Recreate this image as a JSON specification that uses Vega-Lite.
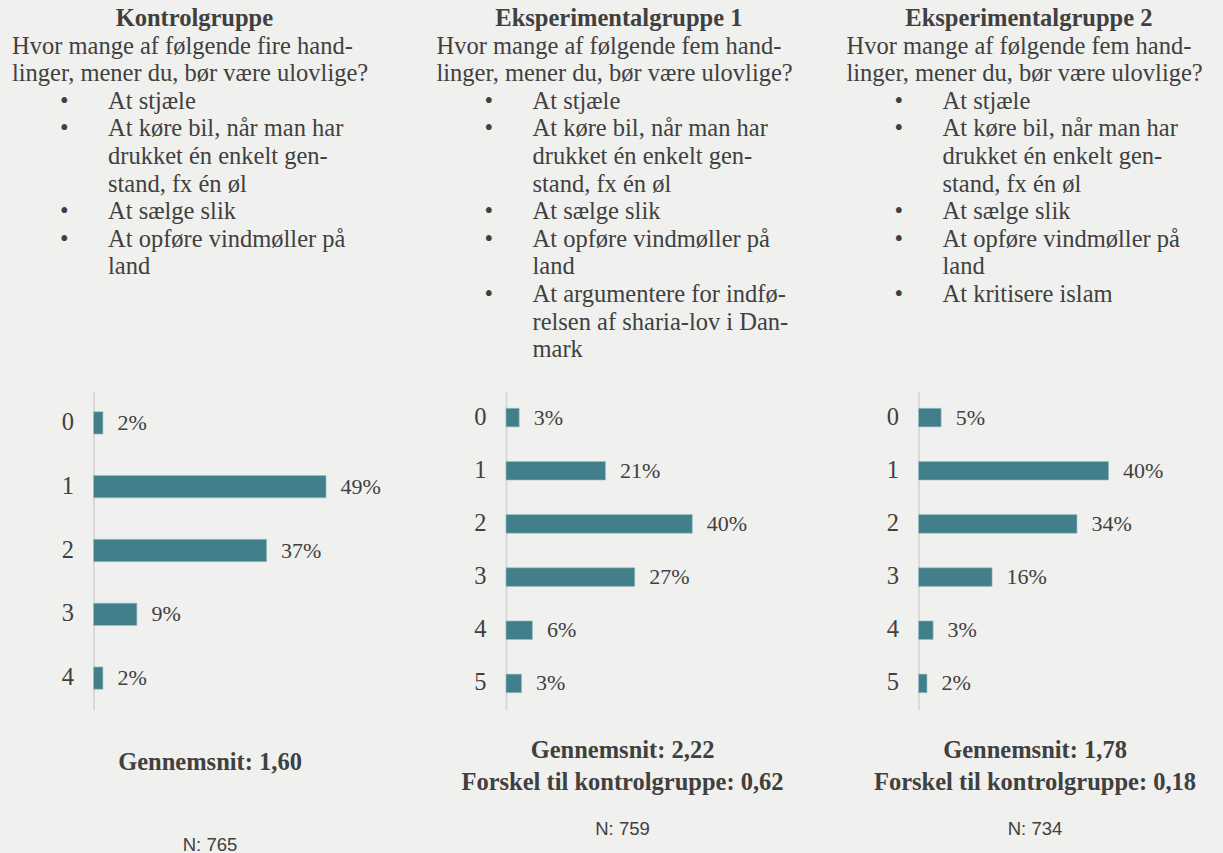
{
  "$schema": "https://vega.github.io/schema/vega-lite/v6.json",
  "background": "#F0F0EE",
  "autosize": {"type": "pad"},
  "padding": {"left": 11.5, "top": 0, "right": 19, "bottom": 0},
  "config": {"view": {"stroke": null}},
  "datasets": {
    "header": [
      {"g": "K", "line": 0, "kind": "title", "text": "Kontrolgruppe"},
      {"g": "K", "line": 1, "kind": "q", "text": "Hvor mange af følgende fire hand-"},
      {"g": "K", "line": 2, "kind": "q", "text": "linger, mener du, bør være ulovlige?"},
      {"g": "K", "line": 3, "kind": "item", "text": "At stjæle"},
      {"g": "K", "line": 4, "kind": "item", "text": "At køre bil, når man har"},
      {"g": "K", "line": 5, "kind": "cont", "text": "drukket én enkelt gen-"},
      {"g": "K", "line": 6, "kind": "cont", "text": "stand, fx én øl"},
      {"g": "K", "line": 7, "kind": "item", "text": "At sælge slik"},
      {"g": "K", "line": 8, "kind": "item", "text": "At opføre vindmøller på"},
      {"g": "K", "line": 9, "kind": "cont", "text": "land"},
      {"g": "E1", "line": 0, "kind": "title", "text": "Eksperimentalgruppe 1"},
      {"g": "E1", "line": 1, "kind": "q", "text": "Hvor mange af følgende fem hand-"},
      {"g": "E1", "line": 2, "kind": "q", "text": "linger, mener du, bør være ulovlige?"},
      {"g": "E1", "line": 3, "kind": "item", "text": "At stjæle"},
      {"g": "E1", "line": 4, "kind": "item", "text": "At køre bil, når man har"},
      {"g": "E1", "line": 5, "kind": "cont", "text": "drukket én enkelt gen-"},
      {"g": "E1", "line": 6, "kind": "cont", "text": "stand, fx én øl"},
      {"g": "E1", "line": 7, "kind": "item", "text": "At sælge slik"},
      {"g": "E1", "line": 8, "kind": "item", "text": "At opføre vindmøller på"},
      {"g": "E1", "line": 9, "kind": "cont", "text": "land"},
      {"g": "E1", "line": 10, "kind": "item", "text": "At argumentere for indfø-"},
      {"g": "E1", "line": 11, "kind": "cont", "text": "relsen af sharia-lov i Dan-"},
      {"g": "E1", "line": 12, "kind": "cont", "text": "mark"},
      {"g": "E2", "line": 0, "kind": "title", "text": "Eksperimentalgruppe 2"},
      {"g": "E2", "line": 1, "kind": "q", "text": "Hvor mange af følgende fem hand-"},
      {"g": "E2", "line": 2, "kind": "q", "text": "linger, mener du, bør være ulovlige?"},
      {"g": "E2", "line": 3, "kind": "item", "text": "At stjæle"},
      {"g": "E2", "line": 4, "kind": "item", "text": "At køre bil, når man har"},
      {"g": "E2", "line": 5, "kind": "cont", "text": "drukket én enkelt gen-"},
      {"g": "E2", "line": 6, "kind": "cont", "text": "stand, fx én øl"},
      {"g": "E2", "line": 7, "kind": "item", "text": "At sælge slik"},
      {"g": "E2", "line": 8, "kind": "item", "text": "At opføre vindmøller på"},
      {"g": "E2", "line": 9, "kind": "cont", "text": "land"},
      {"g": "E2", "line": 10, "kind": "item", "text": "At kritisere islam"}
    ],
    "bars": [
      {"g": "K", "n": "0", "pct": 2.0, "label": "2%"},
      {"g": "K", "n": "1", "pct": 49.3, "label": "49%"},
      {"g": "K", "n": "2", "pct": 36.7, "label": "37%"},
      {"g": "K", "n": "3", "pct": 9.2, "label": "9%"},
      {"g": "K", "n": "4", "pct": 2.0, "label": "2%"},
      {"g": "E1", "n": "0", "pct": 2.8, "label": "3%"},
      {"g": "E1", "n": "1", "pct": 21.1, "label": "21%"},
      {"g": "E1", "n": "2", "pct": 39.5, "label": "40%"},
      {"g": "E1", "n": "3", "pct": 27.3, "label": "27%"},
      {"g": "E1", "n": "4", "pct": 5.6, "label": "6%"},
      {"g": "E1", "n": "5", "pct": 3.3, "label": "3%"},
      {"g": "E2", "n": "0", "pct": 4.8, "label": "5%"},
      {"g": "E2", "n": "1", "pct": 40.3, "label": "40%"},
      {"g": "E2", "n": "2", "pct": 33.6, "label": "34%"},
      {"g": "E2", "n": "3", "pct": 15.6, "label": "16%"},
      {"g": "E2", "n": "4", "pct": 3.1, "label": "3%"},
      {"g": "E2", "n": "5", "pct": 1.8, "label": "2%"}
    ],
    "footer": [
      {"g": "K", "kind": "stat", "line": 1, "text": "Gennemsnit: 1,60"},
      {"g": "K", "kind": "n", "text": "N: 765"},
      {"g": "E1", "kind": "stat", "line": 1, "text": "Gennemsnit: 2,22"},
      {"g": "E1", "kind": "stat", "line": 2, "text": "Forskel til kontrolgruppe: 0,62"},
      {"g": "E1", "kind": "n", "text": "N: 759"},
      {"g": "E2", "kind": "stat", "line": 1, "text": "Gennemsnit: 1,78"},
      {"g": "E2", "kind": "stat", "line": 2, "text": "Forskel til kontrolgruppe: 0,18"},
      {"g": "E2", "kind": "n", "text": "N: 734"}
    ]
  },
  "bounds": "flush",
  "columns": 3,
  "spacing": {"row": 0, "column": 129.5},
  "concat": [
    {
      "width": 283, "height": 391,
      "data": {"name": "header"},
      "transform": [{"filter": "datum.g === 'K'"}],
      "encoding": {"y": {"field": "line", "type": "quantitative", "scale": {"domain": [0, 12], "range": [26, 357.2]}, "axis": null}},
      "layer": [
        {"transform": [{"filter": "datum.kind === 'title'"}],
         "mark": {"type": "text", "align": "center", "baseline": "alphabetic", "font": "Liberation Serif", "fontSize": 24.5, "fontWeight": "bold", "color": "#404040"},
         "encoding": {"x": {"datum": 1.9, "type": "quantitative", "scale": {"domain": [0, 1], "range": [-81.5, 14.5]}, "axis": null}, "text": {"field": "text"}}},
        {"transform": [{"filter": "datum.kind === 'q'"}],
         "mark": {"type": "text", "align": "left", "baseline": "alphabetic", "font": "Liberation Serif", "fontSize": 24.5, "color": "#404040"},
         "encoding": {"x": {"datum": 0, "type": "quantitative", "scale": {"domain": [0, 1], "range": [-81.5, 14.5]}, "axis": null}, "text": {"field": "text"}}},
        {"transform": [{"filter": "datum.kind === 'item' || datum.kind === 'cont'"}],
         "mark": {"type": "text", "align": "left", "baseline": "alphabetic", "font": "Liberation Serif", "fontSize": 24.5, "color": "#404040"},
         "encoding": {"x": {"datum": 1, "type": "quantitative", "scale": {"domain": [0, 1], "range": [-81.5, 14.5]}, "axis": null}, "text": {"field": "text"}}},
        {"transform": [{"filter": "datum.kind === 'item'"}],
         "mark": {"type": "text", "align": "center", "baseline": "alphabetic", "font": "Liberation Serif", "fontSize": 24.5, "color": "#404040", "text": "•"},
         "encoding": {"x": {"datum": 0.545, "type": "quantitative", "scale": {"domain": [0, 1], "range": [-81.5, 14.5]}, "axis": null}}}
      ]
    },
    {
      "width": 283, "height": 391,
      "data": {"name": "header"},
      "transform": [{"filter": "datum.g === 'E1'"}],
      "encoding": {"y": {"field": "line", "type": "quantitative", "scale": {"domain": [0, 12], "range": [26, 357.2]}, "axis": null}},
      "layer": [
        {"transform": [{"filter": "datum.kind === 'title'"}],
         "mark": {"type": "text", "align": "center", "baseline": "alphabetic", "font": "Liberation Serif", "fontSize": 24.5, "fontWeight": "bold", "color": "#404040"},
         "encoding": {"x": {"datum": 1.9, "type": "quantitative", "scale": {"domain": [0, 1], "range": [-69.5, 26.5]}, "axis": null}, "text": {"field": "text"}}},
        {"transform": [{"filter": "datum.kind === 'q'"}],
         "mark": {"type": "text", "align": "left", "baseline": "alphabetic", "font": "Liberation Serif", "fontSize": 24.5, "color": "#404040"},
         "encoding": {"x": {"datum": 0, "type": "quantitative", "scale": {"domain": [0, 1], "range": [-69.5, 26.5]}, "axis": null}, "text": {"field": "text"}}},
        {"transform": [{"filter": "datum.kind === 'item' || datum.kind === 'cont'"}],
         "mark": {"type": "text", "align": "left", "baseline": "alphabetic", "font": "Liberation Serif", "fontSize": 24.5, "color": "#404040"},
         "encoding": {"x": {"datum": 1, "type": "quantitative", "scale": {"domain": [0, 1], "range": [-69.5, 26.5]}, "axis": null}, "text": {"field": "text"}}},
        {"transform": [{"filter": "datum.kind === 'item'"}],
         "mark": {"type": "text", "align": "center", "baseline": "alphabetic", "font": "Liberation Serif", "fontSize": 24.5, "color": "#404040", "text": "•"},
         "encoding": {"x": {"datum": 0.545, "type": "quantitative", "scale": {"domain": [0, 1], "range": [-69.5, 26.5]}, "axis": null}}}
      ]
    },
    {
      "width": 283, "height": 391,
      "data": {"name": "header"},
      "transform": [{"filter": "datum.g === 'E2'"}],
      "encoding": {"y": {"field": "line", "type": "quantitative", "scale": {"domain": [0, 12], "range": [26, 357.2]}, "axis": null}},
      "layer": [
        {"transform": [{"filter": "datum.kind === 'title'"}],
         "mark": {"type": "text", "align": "center", "baseline": "alphabetic", "font": "Liberation Serif", "fontSize": 24.5, "fontWeight": "bold", "color": "#404040"},
         "encoding": {"x": {"datum": 1.9, "type": "quantitative", "scale": {"domain": [0, 1], "range": [-72, 24]}, "axis": null}, "text": {"field": "text"}}},
        {"transform": [{"filter": "datum.kind === 'q'"}],
         "mark": {"type": "text", "align": "left", "baseline": "alphabetic", "font": "Liberation Serif", "fontSize": 24.5, "color": "#404040"},
         "encoding": {"x": {"datum": 0, "type": "quantitative", "scale": {"domain": [0, 1], "range": [-72, 24]}, "axis": null}, "text": {"field": "text"}}},
        {"transform": [{"filter": "datum.kind === 'item' || datum.kind === 'cont'"}],
         "mark": {"type": "text", "align": "left", "baseline": "alphabetic", "font": "Liberation Serif", "fontSize": 24.5, "color": "#404040"},
         "encoding": {"x": {"datum": 1, "type": "quantitative", "scale": {"domain": [0, 1], "range": [-72, 24]}, "axis": null}, "text": {"field": "text"}}},
        {"transform": [{"filter": "datum.kind === 'item'"}],
         "mark": {"type": "text", "align": "center", "baseline": "alphabetic", "font": "Liberation Serif", "fontSize": 24.5, "color": "#404040", "text": "•"},
         "encoding": {"x": {"datum": 0.545, "type": "quantitative", "scale": {"domain": [0, 1], "range": [-72, 24]}, "axis": null}}}
      ]
    },
    {
      "width": 283, "height": 319,
      "data": {"name": "bars"},
      "transform": [{"filter": "datum.g === 'K'"}],
      "encoding": {
        "y": {"field": "n", "type": "ordinal", "sort": "ascending", "scale": {"paddingInner": 0.65, "paddingOuter": 0.325},
              "axis": {"title": null, "ticks": false, "tickSize": 0, "grid": false, "domainColor": "#D9D9D9", "domainWidth": 2, "labelPadding": 20, "labelFont": "Liberation Serif", "labelFontSize": 24.5, "labelColor": "#404040"}},
        "x": {"field": "pct", "type": "quantitative", "scale": {"domain": [0, 60]}, "axis": null}
      },
      "layer": [
        {"mark": {"type": "bar", "color": "#41808B", "stroke": "#9CC2C7", "strokeWidth": 0.6}},
        {"mark": {"type": "text", "align": "left", "baseline": "middle", "dx": 14.5, "font": "Liberation Serif", "fontSize": 22, "color": "#404040"},
         "encoding": {"text": {"field": "label"}}}
      ]
    },
    {
      "width": 283, "height": 319,
      "data": {"name": "bars"},
      "transform": [{"filter": "datum.g === 'E1'"}],
      "encoding": {
        "y": {"field": "n", "type": "ordinal", "sort": "ascending", "scale": {"paddingInner": 0.65, "paddingOuter": 0.325},
              "axis": {"title": null, "ticks": false, "tickSize": 0, "grid": false, "domainColor": "#D9D9D9", "domainWidth": 2, "labelPadding": 20, "labelFont": "Liberation Serif", "labelFontSize": 24.5, "labelColor": "#404040"}},
        "x": {"field": "pct", "type": "quantitative", "scale": {"domain": [0, 60]}, "axis": null}
      },
      "layer": [
        {"mark": {"type": "bar", "color": "#41808B", "stroke": "#9CC2C7", "strokeWidth": 0.6}},
        {"mark": {"type": "text", "align": "left", "baseline": "middle", "dx": 14.5, "font": "Liberation Serif", "fontSize": 22, "color": "#404040"},
         "encoding": {"text": {"field": "label"}}}
      ]
    },
    {
      "width": 283, "height": 319,
      "data": {"name": "bars"},
      "transform": [{"filter": "datum.g === 'E2'"}],
      "encoding": {
        "y": {"field": "n", "type": "ordinal", "sort": "ascending", "scale": {"paddingInner": 0.65, "paddingOuter": 0.325},
              "axis": {"title": null, "ticks": false, "tickSize": 0, "grid": false, "domainColor": "#D9D9D9", "domainWidth": 2, "labelPadding": 20, "labelFont": "Liberation Serif", "labelFontSize": 24.5, "labelColor": "#404040"}},
        "x": {"field": "pct", "type": "quantitative", "scale": {"domain": [0, 60]}, "axis": null}
      },
      "layer": [
        {"mark": {"type": "bar", "color": "#41808B", "stroke": "#9CC2C7", "strokeWidth": 0.6}},
        {"mark": {"type": "text", "align": "left", "baseline": "middle", "dx": 14.5, "font": "Liberation Serif", "fontSize": 22, "color": "#404040"},
         "encoding": {"text": {"field": "label"}}}
      ]
    },
    {
      "width": 283, "height": 143,
      "data": {"name": "footer"},
      "transform": [{"filter": "datum.g === 'K'"}],
      "layer": [
        {"transform": [{"filter": "datum.kind === 'stat'"}],
         "mark": {"type": "text", "align": "center", "baseline": "alphabetic", "font": "Liberation Serif", "fontSize": 24.5, "fontWeight": "bold", "color": "#404040"},
         "encoding": {"x": {"datum": 24.7, "type": "quantitative", "scale": {"domain": [0, 60]}, "axis": null},
                      "y": {"field": "line", "type": "quantitative", "scale": {"domain": [1, 2], "range": [60.3, 93.8]}, "axis": null},
                      "text": {"field": "text"}}},
        {"transform": [{"filter": "datum.kind === 'n'"}],
         "mark": {"type": "text", "align": "center", "baseline": "alphabetic", "font": "Liberation Sans", "fontSize": 18.5, "color": "#404040"},
         "encoding": {"x": {"datum": 24.7, "type": "quantitative", "scale": {"domain": [0, 60]}, "axis": null},
                      "y": {"datum": 3.4, "type": "quantitative", "scale": {"domain": [1, 2], "range": [60.3, 93.8]}, "axis": null},
                      "text": {"field": "text"}}}
      ]
    },
    {
      "width": 283, "height": 143,
      "data": {"name": "footer"},
      "transform": [{"filter": "datum.g === 'E1'"}],
      "layer": [
        {"transform": [{"filter": "datum.kind === 'stat'"}],
         "mark": {"type": "text", "align": "center", "baseline": "alphabetic", "font": "Liberation Serif", "fontSize": 24.5, "fontWeight": "bold", "color": "#404040"},
         "encoding": {"x": {"datum": 24.7, "type": "quantitative", "scale": {"domain": [0, 60]}, "axis": null},
                      "y": {"field": "line", "type": "quantitative", "scale": {"domain": [1, 2], "range": [47.7, 80]}, "axis": null},
                      "text": {"field": "text"}}},
        {"transform": [{"filter": "datum.kind === 'n'"}],
         "mark": {"type": "text", "align": "center", "baseline": "alphabetic", "font": "Liberation Sans", "fontSize": 18.5, "color": "#404040"},
         "encoding": {"x": {"datum": 24.7, "type": "quantitative", "scale": {"domain": [0, 60]}, "axis": null},
                      "y": {"datum": 3.4, "type": "quantitative", "scale": {"domain": [1, 2], "range": [47.7, 80]}, "axis": null},
                      "text": {"field": "text"}}}
      ]
    },
    {
      "width": 283, "height": 143,
      "data": {"name": "footer"},
      "transform": [{"filter": "datum.g === 'E2'"}],
      "layer": [
        {"transform": [{"filter": "datum.kind === 'stat'"}],
         "mark": {"type": "text", "align": "center", "baseline": "alphabetic", "font": "Liberation Serif", "fontSize": 24.5, "fontWeight": "bold", "color": "#404040"},
         "encoding": {"x": {"datum": 24.7, "type": "quantitative", "scale": {"domain": [0, 60]}, "axis": null},
                      "y": {"field": "line", "type": "quantitative", "scale": {"domain": [1, 2], "range": [47.7, 80]}, "axis": null},
                      "text": {"field": "text"}}},
        {"transform": [{"filter": "datum.kind === 'n'"}],
         "mark": {"type": "text", "align": "center", "baseline": "alphabetic", "font": "Liberation Sans", "fontSize": 18.5, "color": "#404040"},
         "encoding": {"x": {"datum": 24.7, "type": "quantitative", "scale": {"domain": [0, 60]}, "axis": null},
                      "y": {"datum": 3.4, "type": "quantitative", "scale": {"domain": [1, 2], "range": [47.7, 80]}, "axis": null},
                      "text": {"field": "text"}}}
      ]
    }
  ]
}
